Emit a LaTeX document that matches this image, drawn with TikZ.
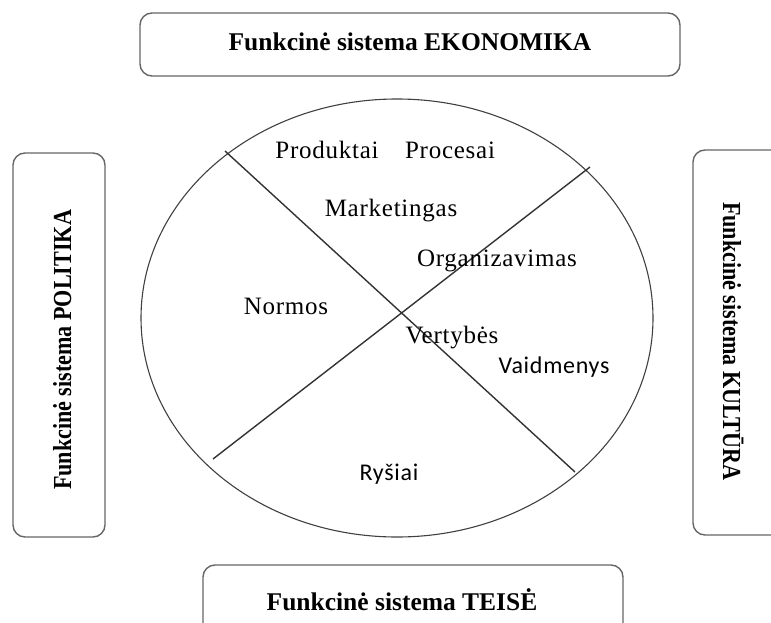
\documentclass[tikz,border=0pt]{standalone}
\usepackage{fontspec}
\usepackage{graphicx}
\setmainfont{Liberation Serif}
\newfontfamily\itemfont[LetterSpace=3]{Liberation Serif}
\newfontfamily\calibfont[LetterSpace=3]{Carlito}
\usetikzlibrary{calc}

\tikzset{
	sysbox/.style={draw=black!60, line width=1.4pt, rounded corners=12pt},
	syslabel/.style={anchor=base, font=\bfseries\fontsize{25.5}{30}\selectfont},
	sidelabel/.style={anchor=base, font=\bfseries\fontsize{26}{30}\selectfont},
	itemlabel/.style={anchor=base, font=\itemfont\fontsize{25}{29}\selectfont},
	itemsans/.style={anchor=base, font=\calibfont\fontsize{24}{28}\selectfont},
	divider/.style={draw=black!80, line width=1.4pt}
}

\begin{document}
\begin{tikzpicture}[x=1pt,y=-1pt]
		\useasboundingbox (0,0) rectangle (771,623);
		\clip (0,0) rectangle (771,623);

		% four function systems
		\draw[sysbox]
			(140,13) rectangle (680,76)
			(13,153) rectangle (105,537)
			(693,150) rectangle (800,535)
			(203,565) rectangle (623,660)
		;

		\path
			(410,51) node[syslabel] (ekonomika) {Funkcinė sistema EKONOMIKA}
			(71,350) node[sidelabel, rotate=90] (politika) {\scalebox{0.85}[1]{Funkcinė sistema POLITIKA}}
			(723,341) node[sidelabel, rotate=-90] (kultura) {\scalebox{0.85}[1]{Funkcinė sistema KULTŪRA}}
			(402,610) node[syslabel] (teise) {Funkcinė sistema TEISĖ}
		;

		% organisation circle
		\coordinate (centre) at (397,318);
		\coordinate (ul) at (225,151);
		\coordinate (lr) at (575,472);
		\coordinate (ll) at (213,459);
		\coordinate (ur) at (590,167);

		\draw[draw=black!75, line width=1.1pt] (centre) ellipse [x radius=256pt, y radius=219pt];
		\draw[divider]
			(ul) -- (lr)
			(ll) -- (ur)
		;

		\path
			(327,159) node[itemlabel] (produktai) {Produktai}
			(450,159) node[itemlabel] (procesai) {Procesai}
			(391,216) node[itemlabel] (marketingas) {Marketingas}
			(497,266) node[itemlabel] (organizavimas) {Organizavimas}
			(286,314) node[itemlabel] (normos) {Normos}
			(452,343) node[itemlabel] (vertybes) {Vertybės}
			(554,373) node[itemsans] (vaidmenys) {Vaidmenys}
			(389,480) node[itemsans] (rysiai) {Ryšiai}
		;

\end{tikzpicture}
\end{document}
